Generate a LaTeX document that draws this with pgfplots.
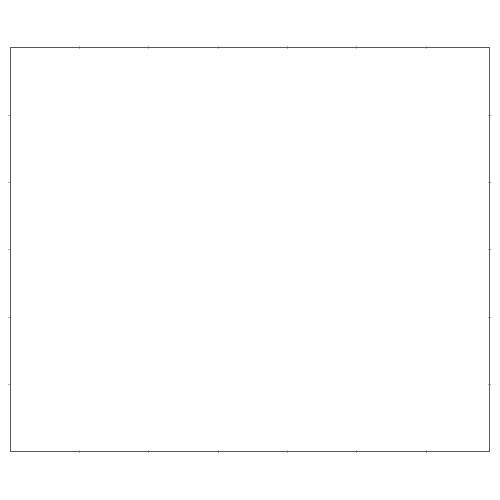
\documentclass[border=0pt]{standalone}
\usepackage{pgfplots}
\pgfplotsset{compat=1.18}
\begin{document}
\begin{tikzpicture}
\useasboundingbox (-10pt,-48.3pt) rectangle (490pt,451.7pt);
\begin{axis}[
  at={(0,0)}, anchor=south west,
  scale only axis,
  width=479.5pt, height=404pt,
  xmin=0, xmax=6.92, ymin=0, ymax=6,
  xtick={1,2,3,4,5,6}, ytick={1,2,3,4,5},
  xticklabels={}, yticklabels={},
  tick align=center,
  major tick length=3pt,
  tick style={draw=black!30, line width=0.4pt},
  axis line style={draw=black!65, line width=0.9pt},
]
\addplot[draw=none] coordinates {(0,0)};
\end{axis}
\end{tikzpicture}
\end{document}
